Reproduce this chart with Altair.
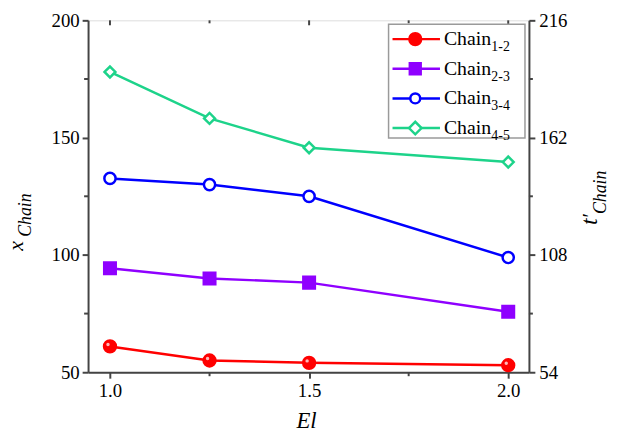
import altair as alt
import pandas as pd

# ---- data ----
el = [1.0, 1.25, 1.5, 2.0]
series = ["Chain1-2", "Chain2-3", "Chain3-4", "Chain4-5"]
subs = ["1-2", "2-3", "3-4", "4-5"]
c12 = [61, 55, 54, 53]
c23 = [94.3, 90, 88.2, 75.8]
c34 = [132.6, 130, 125, 98.9]
c45 = [178, 158.2, 145.7, 139.6]
x_major = [1.0, 1.5, 2.0]
x_minor = [1.25, 1.75]
y_major = [50, 100, 150, 200]
y_minor = [75, 125, 175]
r_major = [54, 108, 162, 216]
r_minor = [81, 135, 189]

colors = ["#FF0000", "#8F00FF", "#0000FF", "#1DD38A"]
fills = ["#FF0000", "#8F00FF", "#FFFFFF", "#FFFFFF"]
shapes = ["circle", "square", "circle", "diamond"]
sizes = [144, 121, 100, 160]

rows = []
for s, vals in zip(series, [c12, c23, c34, c45]):
    for e, v in zip(el, vals):
        rows.append({"s": s, "el": e, "v": v})
df = pd.DataFrame(rows)

FONT = "Liberation Serif"
GREY = "#444444"
AX = dict(domainColor=GREY, domainWidth=2, tickColor=GREY, tickWidth=2, tickSize=6,
          labelFont=FONT, labelFontSize=19, labelColor="black", grid=False, title=None)

xscale = alt.Scale(domain=[0.945, 2.052], nice=False, zero=False)
yscale = alt.Scale(domain=[50, 200], nice=False, zero=False)
rscale = alt.Scale(domain=[54, 216], nice=False, zero=False)

x_axis = alt.Axis(values=x_major, format=".1f", labelPadding=4, **AX)
y_axis = alt.Axis(values=y_major, labelPadding=3, **AX)
r_axis = alt.Axis(values=r_major, orient="right", labelPadding=4, **AX)

X = alt.X("el:Q", scale=xscale, axis=x_axis)
Y = alt.Y("v:Q", scale=yscale, axis=y_axis)
cscale = alt.Scale(domain=series, range=colors)

lines = alt.Chart(df).mark_line(strokeWidth=2.5).encode(
    x=X, y=Y,
    color=alt.Color("s:N", scale=cscale, legend=None),
)
points = alt.Chart(df).mark_point(strokeWidth=2.5, opacity=1, fillOpacity=1).encode(
    x=X, y=Y,
    shape=alt.Shape("s:N", scale=alt.Scale(domain=series, range=shapes), legend=None),
    stroke=alt.Stroke("s:N", scale=cscale, legend=None),
    fill=alt.Fill("s:N", scale=alt.Scale(domain=series, range=fills), legend=None),
    size=alt.Size("s:N", scale=alt.Scale(domain=series, range=sizes), legend=None),
)
highlight = alt.Chart(df[df.s == series[0]]).mark_circle(
    size=12, color="#FFB8B8", opacity=1, xOffset=-2, yOffset=-2).encode(x=X, y=Y)

XT = alt.X("t:Q", scale=xscale, axis=x_axis)
YT = alt.Y("t:Q", scale=yscale, axis=y_axis)
top_major = alt.Chart(pd.DataFrame({"t": x_major})).mark_rule(color=GREY, strokeWidth=2).encode(
    x=XT, y=alt.value(0), y2=alt.value(5))
top_minor = alt.Chart(pd.DataFrame({"t": x_minor})).mark_rule(color=GREY, strokeWidth=2).encode(
    x=XT, y=alt.value(0), y2=alt.value(3))
bot_minor = alt.Chart(pd.DataFrame({"t": x_minor})).mark_rule(color=GREY, strokeWidth=2).encode(
    x=XT, y=alt.value(356), y2=alt.value(360))
left_minor = alt.Chart(pd.DataFrame({"t": y_minor})).mark_rule(color=GREY, strokeWidth=2).encode(
    y=YT, x=alt.value(-4), x2=alt.value(0))

inner = alt.layer(lines, points, highlight, top_major, top_minor, bot_minor, left_minor)

RT = alt.Y("t:Q", scale=rscale, axis=r_axis)
right_anchor = alt.Chart(pd.DataFrame({"t": r_major})).mark_point(opacity=0).encode(y=RT)
right_minor = alt.Chart(pd.DataFrame({"t": r_minor})).mark_rule(color=GREY, strokeWidth=2).encode(
    y=RT, x=alt.value(446), x2=alt.value(450))
right = alt.layer(right_anchor, right_minor)

# ---- legend ----
one = pd.DataFrame({"a": [0]})
legend_layers = [
    alt.Chart(one).mark_rect(fill="white", stroke="#9A9A9A", strokeWidth=1.5).encode(
        x=alt.value(304), x2=alt.value(442), y=alt.value(4), y2=alt.value(119))
]
for i, (s, sub) in enumerate(zip(series, subs)):
    cy = 19 + 30 * i
    legend_layers.append(alt.Chart(one).mark_rule(color=colors[i], strokeWidth=2.5).encode(
        x=alt.value(308), x2=alt.value(356), y=alt.value(cy)))
    legend_layers.append(alt.Chart(one).mark_point(
        shape=shapes[i], size=sizes[i], stroke=colors[i], fill=fills[i],
        strokeWidth=2.5, opacity=1, fillOpacity=1).encode(x=alt.value(331), y=alt.value(cy)))
    legend_layers.append(alt.Chart(one).mark_text(
        text="Chain", font=FONT, fontSize=20, align="left", baseline="alphabetic", color="black").encode(
        x=alt.value(360), y=alt.value(cy + 6)))
    legend_layers.append(alt.Chart(one).mark_text(
        text=sub, font=FONT, fontSize=14, align="left", baseline="alphabetic", color="black").encode(
        x=alt.value(408), y=alt.value(cy + 12)))

# ---- axis titles ----
tstyle = dict(font=FONT, fontStyle="italic", color="black", baseline="alphabetic")
titles = [
    alt.Chart(one).mark_text(text="x", fontSize=22, angle=270, align="left", **tstyle).encode(
        x=alt.value(-66), y=alt.value(233)),
    alt.Chart(one).mark_text(text="Chain", fontSize=18, angle=270, align="left", **tstyle).encode(
        x=alt.value(-58), y=alt.value(219)),
    alt.Chart(one).mark_text(text="t", fontSize=24, angle=270, align="left", **tstyle).encode(
        x=alt.value(515), y=alt.value(207)),
    alt.Chart(one).mark_text(text="\u2032", fontSize=22, angle=270, align="left", **tstyle).encode(
        x=alt.value(515), y=alt.value(201)),
    alt.Chart(one).mark_text(text="Chain", fontSize=18, angle=270, align="left", **tstyle).encode(
        x=alt.value(524), y=alt.value(196)),
    alt.Chart(one).mark_text(text="El", fontSize=23, align="center", **tstyle).encode(
        x=alt.value(221), y=alt.value(412)),
]

chart = alt.layer(inner, right, *legend_layers, *titles).resolve_scale(
    y="independent"
).properties(
    width=446, height=356,
    autosize=alt.AutoSizeParams(type="none"),
    padding={"left": 81, "top": 10, "right": 81, "bottom": 60},
).configure_view(stroke=GREY, strokeWidth=2).configure(background="white")

chart.save("out.html", embed_options={"renderer": "svg", "actions": False})
